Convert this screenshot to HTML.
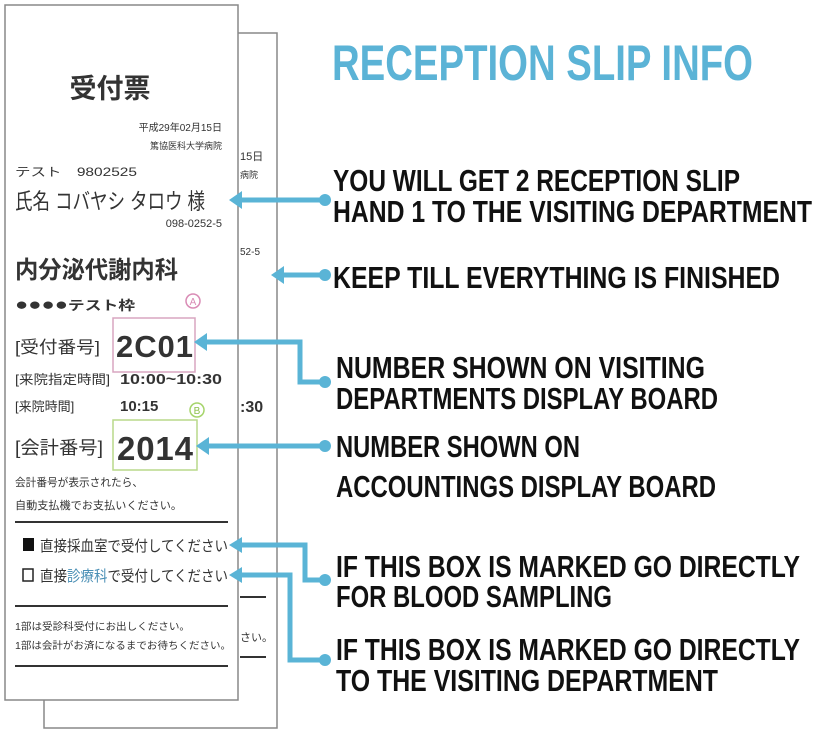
<!DOCTYPE html>
<html><head><meta charset="utf-8"><style>
html,body{margin:0;padding:0;background:#fff;}
svg{display:block;}
.j{font-family:"Liberation Sans","Noto Sans CJK JP",sans-serif;fill:#333;}
.e{font-family:"Liberation Sans Narrow","Liberation Sans",sans-serif;font-weight:bold;fill:#111;font-size:31px;}
</style></head><body>
<svg width="820" height="743" viewBox="0 0 820 743" xmlns="http://www.w3.org/2000/svg">
<rect x="44" y="33" width="233" height="695" fill="#fff" stroke="#888" stroke-width="1.5"/>
<text class="j" x="240" y="160" font-size="11">15日</text>
<text class="j" x="240" y="178" font-size="9">病院</text>
<text class="j" x="240" y="255" font-size="10">52-5</text>
<text class="j" x="240" y="412" font-size="16" font-weight="bold">:30</text>
<line x1="240" y1="597" x2="266" y2="597" stroke="#333" stroke-width="2"/>
<text class="j" x="240" y="641" font-size="11">さい。</text>
<line x1="240" y1="657" x2="266" y2="657" stroke="#333" stroke-width="2"/>
<rect x="5" y="5" width="233" height="695" fill="#fff" stroke="#888" stroke-width="1.5"/>
<text class="j" x="110" y="98" font-size="27" text-anchor="middle" font-weight="bold">受付票</text>
<text class="j" x="222" y="131" font-size="10" text-anchor="end">平成29年02月15日</text>
<text class="j" x="222" y="149" font-size="9" text-anchor="end">篤協医科大学病院</text>
<text class="j" x="15" y="176" font-size="12" textLength="122" lengthAdjust="spacingAndGlyphs">テスト　9802525</text>
<text class="j" x="15" y="209" font-size="22" textLength="190" lengthAdjust="spacingAndGlyphs">氏名 コバヤシ タロウ 様</text>
<text class="j" x="222" y="227" font-size="11" text-anchor="end">098-0252-5</text>
<text class="j" x="15" y="278" font-size="24" font-weight="bold" textLength="163" lengthAdjust="spacingAndGlyphs">内分泌代謝内科</text>
<text class="j" x="15" y="310" font-size="13" font-weight="bold" textLength="120" lengthAdjust="spacingAndGlyphs"><tspan font-size="17">●●●●</tspan>テスト枠</text>
<text class="j" x="15" y="353" font-size="17" textLength="85" lengthAdjust="spacingAndGlyphs">[受付番号]</text>
<rect x="113" y="318" width="82" height="54" fill="none" stroke="#d9a5c0" stroke-width="1.5"/>
<circle cx="193" cy="301" r="7" fill="#fff" stroke="#d98bb5" stroke-width="1.5"/>
<text x="193" y="305" font-size="10" text-anchor="middle" fill="#d98bb5" font-family="Liberation Sans">A</text>
<text class="j" x="116" y="357" font-size="31" font-weight="bold" textLength="77">2C01</text>
<text class="j" x="15" y="384" font-size="13" textLength="95" lengthAdjust="spacingAndGlyphs">[来院指定時間]</text>
<text class="j" x="120" y="384" font-size="15" font-weight="bold" textLength="102" lengthAdjust="spacingAndGlyphs">10:00~10:30</text>
<text class="j" x="15" y="411" font-size="13">[来院時間]</text>
<text class="j" x="120" y="411" font-size="15" font-weight="bold">10:15</text>
<circle cx="197" cy="410" r="7" fill="#fff" stroke="#a5d46a" stroke-width="1.5"/>
<text x="197" y="414" font-size="10" text-anchor="middle" fill="#8cc04a" font-family="Liberation Sans">B</text>
<rect x="113" y="420" width="84" height="50" fill="none" stroke="#b9d98a" stroke-width="1.5"/>
<text class="j" x="15" y="454" font-size="18" textLength="88" lengthAdjust="spacingAndGlyphs">[会計番号]</text>
<text class="j" x="117" y="460" font-size="33" font-weight="bold" textLength="76">2014</text>
<text class="j" x="15" y="486" font-size="11" textLength="128" lengthAdjust="spacingAndGlyphs">会計番号が表示されたら、</text>
<text class="j" x="15" y="509" font-size="11" textLength="167" lengthAdjust="spacingAndGlyphs">自動支払機でお支払いください。</text>
<line x1="15" y1="522" x2="228" y2="522" stroke="#333" stroke-width="2"/>
<rect x="23" y="538" width="11" height="13" fill="#111"/>
<text class="j" x="40" y="551" font-size="15" textLength="188" lengthAdjust="spacingAndGlyphs">直接採血室で受付してください</text>
<rect x="23" y="569" width="10" height="12" fill="none" stroke="#222" stroke-width="1.5"/>
<text class="j" x="40" y="581" font-size="15" textLength="188" lengthAdjust="spacingAndGlyphs">直接<tspan fill="#4a8fb5">診療科</tspan>で受付してください</text>
<line x1="15" y1="606" x2="228" y2="606" stroke="#333" stroke-width="2"/>
<text class="j" x="15" y="630" font-size="10" textLength="175" lengthAdjust="spacingAndGlyphs">1部は受診科受付にお出しください。</text>
<text class="j" x="15" y="649" font-size="10" textLength="216" lengthAdjust="spacingAndGlyphs">1部は会計がお済になるまでお待ちください。</text>
<line x1="15" y1="666" x2="228" y2="666" stroke="#333" stroke-width="2"/>
<g stroke="#5ab4d6" stroke-width="5" fill="none">
<polyline points="325,200 238,200"/>
<polyline points="325,275 280,275"/>
<polyline points="325,382 300,382 300,342 203,342"/>
<polyline points="325,446 205,446"/>
<polyline points="325,580 305,580 305,545 238,545"/>
<polyline points="325,660 290,660 290,575 238,575"/>
</g>
<g fill="#5ab4d6">
<circle cx="325" cy="200" r="6"/><circle cx="325" cy="275" r="6"/><circle cx="325" cy="382" r="6"/>
<circle cx="325" cy="446" r="6"/><circle cx="325" cy="580" r="6"/><circle cx="325" cy="660" r="6"/>
<polygon points="229,200 242,191 242,209"/>
<polygon points="271,275 284,266 284,284"/>
<polygon points="194,342 207,333 207,351"/>
<polygon points="196,446 209,437 209,455"/>
<polygon points="229,545 242,537 242,553"/>
<polygon points="229,575 242,567 242,583"/>
</g>
<text x="332" y="80" font-family="Liberation Sans Narrow, Liberation Sans, sans-serif" font-weight="bold" font-size="50" fill="#5bb3d6" textLength="421" lengthAdjust="spacingAndGlyphs">RECEPTION SLIP INFO</text>
<text class="e" x="333" y="191" textLength="407" lengthAdjust="spacingAndGlyphs">YOU WILL GET 2 RECEPTION SLIP</text>
<text class="e" x="333" y="222" textLength="479" lengthAdjust="spacingAndGlyphs">HAND 1 TO THE VISITING DEPARTMENT</text>
<text class="e" x="333" y="288" textLength="447" lengthAdjust="spacingAndGlyphs">KEEP TILL EVERYTHING IS FINISHED</text>
<text class="e" x="336" y="378" textLength="369" lengthAdjust="spacingAndGlyphs">NUMBER SHOWN ON VISITING</text>
<text class="e" x="336" y="409" textLength="382" lengthAdjust="spacingAndGlyphs">DEPARTMENTS DISPLAY BOARD</text>
<text class="e" x="336" y="457" textLength="244" lengthAdjust="spacingAndGlyphs">NUMBER SHOWN ON</text>
<text class="e" x="336" y="497" textLength="380" lengthAdjust="spacingAndGlyphs">ACCOUNTINGS DISPLAY BOARD</text>
<text class="e" x="336" y="577" textLength="464" lengthAdjust="spacingAndGlyphs">IF THIS BOX IS MARKED GO DIRECTLY</text>
<text class="e" x="336" y="607" textLength="276" lengthAdjust="spacingAndGlyphs">FOR BLOOD SAMPLING</text>
<text class="e" x="336" y="660" textLength="464" lengthAdjust="spacingAndGlyphs">IF THIS BOX IS MARKED GO DIRECTLY</text>
<text class="e" x="336" y="691" textLength="382" lengthAdjust="spacingAndGlyphs">TO THE VISITING DEPARTMENT</text>
</svg>
</body></html>
